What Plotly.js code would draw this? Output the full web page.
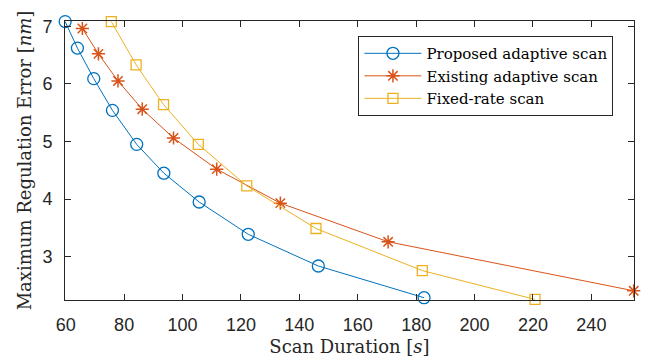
<!DOCTYPE html>
<html>
<head>
<meta charset="utf-8">
<script src="https://cdn.plot.ly/plotly-3.0.1.min.js"></script>
<style>html,body{margin:0;padding:0;background:#fff;}</style>
</head>
<body>
<div id="chart" style="width:654px;height:361px;"></div>
<script>
// Data
const proposedX = [59.8, 64.0, 69.6, 76.0, 84.3, 93.6, 105.7, 122.5, 146.5, 182.7];
const proposedY = [7.08, 6.62, 6.09, 5.54, 4.95, 4.45, 3.95, 3.39, 2.84, 2.29];
const existingX = [65.7, 71.2, 77.9, 86.2, 96.9, 111.7, 133.5, 170.4, 254.5];
const existingY = [6.96, 6.52, 6.05, 5.56, 5.06, 4.52, 3.93, 3.26, 2.41];
const fixedX = [75.6, 84.1, 93.5, 105.4, 122.0, 145.7, 182.1, 220.7];
const fixedY = [7.08, 6.33, 5.64, 4.95, 4.23, 3.49, 2.76, 2.26];
const seriesNames = ["Proposed adaptive scan", "Existing adaptive scan", "Fixed-rate scan"];
const xTicks = [60, 80, 100, 120, 140, 160, 180, 200, 220, 240];
const yTicks = [3, 4, 5, 6, 7];

const axisColor = '#262626';
const serif = 'DejaVu Serif, serif';
const sans = 'Liberation Sans, Arial, sans-serif';

const traces = [
  {x: proposedX, y: proposedY, name: seriesNames[0], mode: 'lines+markers', type: 'scatter', cliponaxis: false,
   line: {color: '#0072BD', width: 1}, marker: {symbol: 'circle-open', size: 12, color: '#0072BD', line: {width: 1.3}}},
  {x: existingX, y: existingY, name: seriesNames[1], mode: 'lines+markers', type: 'scatter', cliponaxis: false,
   line: {color: '#D95319', width: 1}, marker: {symbol: 'asterisk-open', size: 11, color: '#D95319', line: {width: 1.5, color: '#D95319'}}},
  {x: fixedX, y: fixedY, name: seriesNames[2], mode: 'lines+markers', type: 'scatter', cliponaxis: false,
   line: {color: '#EDB120', width: 1}, marker: {symbol: 'square-open', size: 10, color: '#EDB120', line: {width: 1.3}}}
];

const layout = {
  width: 654, height: 361,
  margin: {l: 65, r: 20, t: 21, b: 61, pad: 0},
  paper_bgcolor: '#fff', plot_bgcolor: '#fff',
  showlegend: true,
  legend: {
    x: 0.5157, y: 0.946, xanchor: 'left', yanchor: 'top',
    bgcolor: '#fff', bordercolor: axisColor, borderwidth: 1,
    font: {family: serif, size: 15, color: '#000'},
    itemwidth: 57
  },
  xaxis: {
    range: [59.75, 254.6], tickvals: xTicks, ticktext: xTicks.map(String),
    ticks: 'inside', ticklen: 6, tickwidth: 1, tickcolor: axisColor,
    showline: true, linecolor: axisColor, linewidth: 1, mirror: 'ticks',
    showgrid: false, zeroline: false,
    tickfont: {family: sans, size: 18, color: axisColor},
    ticklabelstandoff: 8,
    title: {text: 'Scan Duration [<i>s</i>]', font: {family: serif, size: 18, color: axisColor}, standoff: 6}
  },
  yaxis: {
    range: [2.25, 7.09], tickvals: yTicks, ticktext: yTicks.map(String),
    ticks: 'inside', ticklen: 6, tickwidth: 1, tickcolor: axisColor,
    showline: true, linecolor: axisColor, linewidth: 1, mirror: 'ticks',
    showgrid: false, zeroline: false,
    tickfont: {family: sans, size: 18, color: axisColor},
    ticklabelstandoff: 8,
    title: {text: 'Maximum Regulation Error [<i>nm</i>]', font: {family: serif, size: 18, color: axisColor}, standoff: 6}
  }
};

Plotly.newPlot('chart', traces, layout, {staticPlot: true, displayModeBar: false});
</script>
</body>
</html>
